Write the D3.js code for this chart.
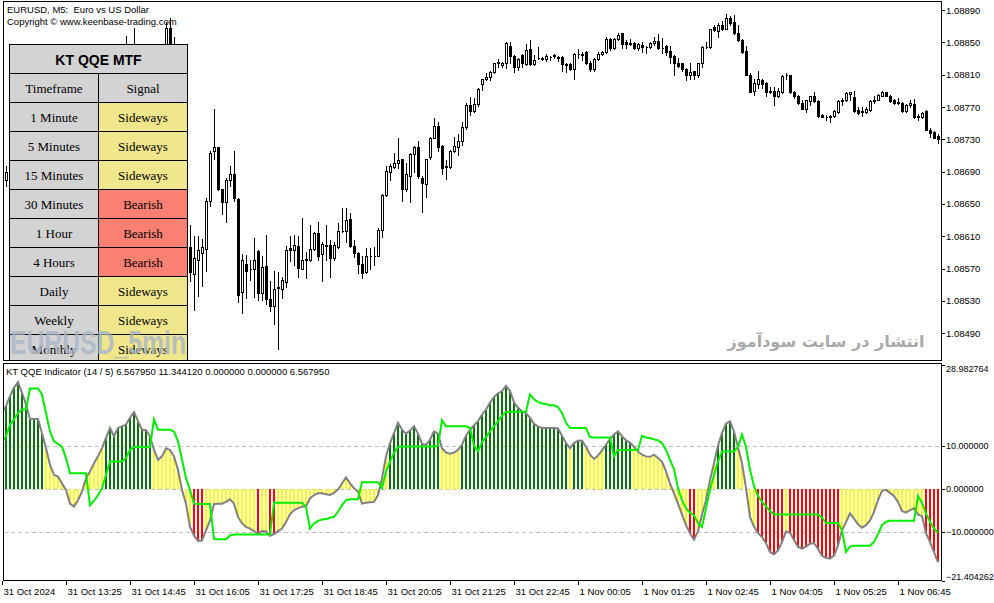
<!DOCTYPE html>
<html>
<head>
<meta charset="utf-8">
<script src="https://cdn.jsdelivr.net/npm/d3@7"></script>
<style>
  body { margin: 0; background: #fff; }
  svg { display: block; }
  text { font-family: "Liberation Sans", Arial, sans-serif; }
</style>
</head>
<body>
<div id="chart"></div>
<script>
let w = 994;
let h = 603;

// EURUSD M5 candles, [open, high, low, close] in points (price x 100000)
const candles = [
  [108673,108698,108667,108680],[108680,108697,108672,108690],[108690,108704,108682,108698],[108698,108711,108692,108704],
  [108704,108723,108698,108717],[108717,108722,108702,108711],[108711,108727,108707,108719],[108719,108734,108714,108729],
  [108729,108741,108723,108735],[108735,108746,108729,108741],[108741,108751,108734,108744],[108744,108748,108729,108735],
  [108735,108739,108717,108723],[108723,108729,108709,108717],[108717,108727,108712,108719],[108719,108722,108704,108711],
  [108711,108717,108697,108704],[108704,108708,108687,108695],[108695,108702,108682,108692],[108692,108707,108690,108702],
  [108702,108712,108697,108707],[108707,108722,108704,108717],[108717,108729,108712,108723],[108723,108737,108719,108732],
  [108732,108746,108727,108741],[108741,108756,108737,108751],[108751,108772,108748,108766],[108766,108785,108761,108781],
  [108781,108784,108766,108776],[108776,108796,108772,108791],[108791,108813,108786,108808],[108808,108858,108803,108821],
  [108821,108834,108816,108828],[108828,108868,108823,108838],[108838,108843,108821,108826],[108826,108834,108813,108818],
  [108818,108828,108811,108822],[108822,108838,108816,108831],[108831,108836,108810,108816],[108816,108826,108801,108808],
  [108808,108841,108803,108833],[108833,108875,108828,108868],[108868,108880,108843,108847],[108847,108857,108779,108785],
  [108785,108791,108692,108704],[108704,108711,108618,108630],[108630,108636,108587,108597],[108597,108624,108554,108566],
  [108563,108610,108519,108583],[108581,108610,108536,108593],[108589,108607,108548,108597],[108594,108657,108567,108653],
  [108653,108715,108647,108713],[108715,108767,108706,108720],[108720,108721,108667,108668],[108668,108669,108638,108652],
  [108652,108682,108628,108680],[108680,108697,108672,108687],[108687,108715,108653,108657],[108656,108657,108528,108537],
  [108541,108588,108515,108581],[108576,108587,108533,108567],[108570,108581,108556,108569],[108570,108608,108535,108581],
  [108592,108593,108531,108540],[108540,108585,108531,108572],[108573,108611,108526,108532],[108532,108555,108517,108524],
  [108524,108567,108501,108545],[108546,108566,108471,108547],[108545,108559,108534,108556],[108553,108598,108547,108593],
  [108596,108610,108579,108593],[108593,108611,108574,108599],[108598,108610,108560,108571],[108570,108632,108569,108581],
  [108582,108590,108558,108580],[108581,108624,108579,108594],[108594,108615,108593,108614],[108614,108628,108581,108585],
  [108588,108603,108555,108601],[108599,108624,108581,108598],[108599,108605,108560,108583],[108583,108603,108580,108599],
  [108597,108626,108596,108616],[108617,108645,108615,108616],[108616,108645,108603,108630],[108631,108639,108597,108598],
  [108598,108605,108584,108589],[108589,108591,108564,108576],[108576,108585,108558,108565],[108566,108595,108565,108586],
  [108586,108595,108570,108586],[108586,108597,108574,108586],[108586,108620,108585,108618],[108618,108662,108609,108661],
  [108661,108697,108660,108691],[108690,108699,108679,108697],[108696,108713,108694,108701],[108701,108731,108694,108704],
  [108705,108706,108653,108669],[108669,108701,108666,108687],[108685,108713,108652,108712],[108712,108722,108689,108721],
  [108720,108728,108682,108685],[108682,108684,108640,108676],[108675,108706,108658,108705],[108708,108733,108706,108732],
  [108732,108756,108731,108747],[108747,108751,108716,108721],[108722,108723,108687,108694],[108697,108704,108681,108696],
  [108696,108717,108694,108715],[108715,108733,108714,108722],[108721,108737,108710,108728],[108728,108752,108723,108745],
  [108745,108775,108743,108773],[108772,108782,108760,108765],[108765,108781,108764,108774],[108774,108794,108771,108792],
  [108798,108805,108791,108804],[108804,108812,108803,108807],[108807,108815,108803,108813],[108813,108825,108812,108824],
  [108824,108829,108820,108826],[108822,108826,108819,108825],[108824,108850,108818,108849],[108845,108850,108825,108833],
  [108833,108834,108813,108819],[108819,108830,108816,108829],[108834,108835,108819,108825],[108823,108848,108822,108841],
  [108842,108853,108822,108823],[108823,108834,108822,108828],[108830,108844,108829,108830],[108830,108832,108828,108829],
  [108829,108835,108827,108833],[108832,108833,108828,108832],[108833,108835,108830,108834],[108832,108833,108827,108831],
  [108832,108833,108815,108823],[108823,108824,108813,108822],[108823,108824,108816,108817],[108817,108837,108804,108836],
  [108836,108842,108831,108835],[108835,108838,108828,108834],[108838,108839,108823,108824],[108824,108827,108814,108817],
  [108817,108830,108814,108829],[108829,108838,108828,108836],[108836,108839,108834,108838],[108838,108856,108837,108854],
  [108854,108855,108840,108843],[108843,108855,108842,108854],[108854,108862,108853,108859],[108861,108862,108843,108848],
  [108850,108853,108843,108848],[108848,108854,108847,108849],[108849,108850,108842,108843],[108843,108849,108840,108848],
  [108847,108850,108838,108844],[108844,108845,108837,108844],[108844,108850,108843,108849],[108849,108857,108847,108852],
  [108852,108860,108842,108843],[108843,108855,108837,108843],[108845,108847,108834,108838],[108839,108845,108824,108832],
  [108833,108834,108809,108825],[108824,108830,108820,108821],[108824,108825,108815,108817],[108817,108818,108803,108809],
  [108809,108825,108805,108813],[108814,108815,108805,108809],[108809,108825,108807,108824],[108824,108845,108819,108844],
  [108844,108850,108843,108844],[108844,108867,108843,108866],[108869,108871,108864,108865],[108864,108874,108857,108872],
  [108872,108876,108865,108866],[108867,108885,108866,108880],[108880,108882,108872,108874],[108875,108884,108860,108861],
  [108861,108872,108852,108853],[108853,108854,108837,108838],[108839,108845,108809,108810],[108810,108812,108788,108789],
  [108790,108804,108785,108800],[108799,108815,108794,108804],[108803,108804,108793,108799],[108800,108801,108783,108789],
  [108790,108795,108787,108788],[108790,108795,108773,108784],[108783,108793,108782,108790],[108789,108810,108787,108808],
  [108810,108812,108804,108810],[108809,108810,108787,108788],[108789,108790,108781,108783],[108784,108785,108774,108775],
  [108775,108779,108767,108768],[108768,108779,108764,108778],[108777,108784,108772,108783],[108784,108789,108776,108777],
  [108777,108779,108757,108759],[108760,108761,108757,108758],[108758,108760,108754,108757],[108757,108760,108752,108759],
  [108759,108766,108758,108765],[108764,108779,108763,108777],[108777,108781,108772,108779],[108778,108789,108777,108787],
  [108786,108789,108779,108788],[108782,108790,108764,108765],[108766,108770,108761,108763],[108764,108770,108759,108765],
  [108764,108770,108763,108768],[108766,108778,108765,108777],[108777,108783,108775,108779],[108779,108786,108778,108785],
  [108784,108790,108783,108788],[108788,108789,108783,108784],[108784,108785,108776,108777],[108779,108780,108774,108775],
  [108776,108781,108774,108775],[108775,108776,108764,108765],[108765,108774,108764,108773],[108772,108779,108770,108775],
  [108774,108780,108756,108757],[108759,108761,108754,108757],[108757,108764,108756,108763],[108765,108766,108741,108742],
  [108742,108744,108733,108738],[108739,108740,108731,108732],[108734,108736,108726,108730]
];

// KT QQE histogram value (RSI - 50) per bar
const qqeValue = [
  17.7,19.3,21.6,23.6,24.9,22.4,19.7,16.3,16.3,16.3,
  13.0,9.5,5.6,3.3,2.9,1.3,-0.2,-3.4,-4.1,-2.6,
  -0.6,2.5,4.1,6.0,7.6,9.5,11.9,14.2,12.3,14.2,
  14.6,15.0,16.6,17.9,15.8,13.8,13.7,12.3,9.1,6.8,
  7.6,9.5,9.1,7.6,4.5,-0.2,-3.4,-8.8,-10.8,-12.1,
  -12.0,-9.6,-7.3,-3.5,-3.4,-3.4,-3.0,-2.4,-3.4,-6.5,
  -8.0,-8.8,-9.2,-9.8,-10.4,-9.8,-9.9,-10.9,-10.5,-9.8,
  -9.2,-7.7,-5.9,-4.9,-4.5,-4.1,-4.0,-2.2,-1.4,-1.0,
  -1.0,-1.2,-1.4,-0.9,-0.1,1.3,2.7,1.3,0.2,-0.6,
  -3.4,-3.2,-3.1,-3.0,-1.4,2.5,7.6,10.7,13.0,15.4,
  13.8,12.9,13.6,14.6,12.9,10.5,10.3,11.5,13.4,12.9,
  9.5,8.5,8.2,8.5,9.1,10.3,12.4,13.8,14.8,15.8,
  17.3,18.5,20.1,21.4,22.3,22.8,24.0,22.8,20.2,18.9,
  18.1,17.6,16.6,15.2,14.6,14.2,14.2,14.2,14.2,14.1,
  12.4,10.7,9.5,10.7,11.25,11.3,9.8,8.0,7.0,7.8,
  9.0,10.3,11.6,12.7,13.4,12.3,11.3,10.8,9.8,8.75,
  8.0,7.6,7.5,8.0,7.2,6.4,4.1,1.3,-1.0,-3.4,
  -5.9,-8.4,-10.3,-11.8,-9.8,-5.9,-2.6,2.1,6.0,10.1,
  13.0,15.2,15.8,13.4,9.7,6.0,0.2,-6.5,-8.8,-10.2,
  -11.2,-12.6,-14.7,-15.2,-14.3,-12.3,-9.9,-10.2,-11.8,-13.5,
  -13.9,-13.4,-12.7,-12.6,-13.9,-15.5,-16.0,-16.2,-15.5,-13.1,
  -9.6,-7.7,-5.7,-6.9,-8.2,-9.0,-8.4,-7.3,-5.3,-2.6,
  -0.4,-0.2,-0.9,-1.6,-3.0,-5.1,-5.5,-4.9,-4.5,-5.9,
  -6.3,-10.3,-12.3,-14.7,-17.0
];

// KT QQE trailing level per bar
const qqeTrail = [
  11.1,12.3,15.0,16.2,17.7,18.5,18.5,23.4,23.4,23.4,
  22.0,17.7,13.4,11.1,10.5,9.8,7.2,3.7,3.7,3.7,
  3.7,3.7,-3.75,-2.7,-1.4,0.2,3.3,6.4,6.4,6.4,
  6.4,7.2,9.1,9.8,9.8,9.8,9.8,9.8,16.2,13.8,
  13.8,13.8,13.8,13.4,11.1,6.8,2.5,-0.2,-3.4,-3.5,
  -3.5,-3.5,-3.5,-11.6,-11.7,-11.7,-11.7,-10.8,-10.6,-10.6,
  -10.6,-10.6,-10.6,-10.6,-10.6,-10.6,-10.6,-10.6,-3.2,-3.2,
  -3.2,-3.2,-3.2,-3.2,-3.2,-3.2,-4.1,-9.2,-8.0,-7.4,
  -7.1,-7.0,-6.7,-6.5,-5.3,-3.75,-2.6,-2.4,-2.4,-2.4,
  1.6,1.6,1.6,1.6,1.6,0.2,4.1,6.4,8.4,9.8,
  9.9,9.9,9.9,9.9,9.9,9.9,9.9,9.9,9.9,10.1,
  16.0,14.6,14.6,14.6,14.6,14.6,14.6,14.2,10.1,8.75,
  10.9,12.1,13.4,14.6,15.8,17.1,17.9,18.0,18.0,18.0,
  18.0,18.0,22.0,20.9,20.3,19.9,19.8,19.5,19.5,19.1,
  17.7,15.4,14.2,14.2,14.2,14.2,14.2,12.1,12.0,12.0,
  12.0,12.0,12.0,7.6,9.1,9.1,9.1,9.1,9.1,9.1,
  12.4,12.0,11.8,11.6,11.3,10.7,9.1,6.8,4.6,0.2,
  -2.6,-4.5,-5.5,-6.1,-8.0,-8.8,-4.5,-0.2,3.3,6.4,
  8.75,8.75,8.75,8.75,9.8,12.7,9.8,4.5,0.7,-1.6,
  -3.0,-4.0,-5.1,-5.9,-5.9,-5.9,-5.9,-5.9,-5.9,-5.9,
  -5.9,-5.9,-5.9,-5.9,-5.9,-6.6,-7.9,-7.9,-7.9,-7.9,
  -9.6,-14.6,-13.4,-13.2,-13.2,-13.2,-13.2,-13.2,-12.3,-10.5,
  -8.4,-7.6,-7.4,-7.4,-7.4,-7.4,-7.4,-7.4,-7.4,-1.6,
  -3.2,-5.7,-7.6,-9.2,-10.1
];

const priceTicks = [1.08890, 1.08850, 1.08810, 1.08770, 1.08730, 1.08690, 1.08650, 1.08610, 1.08570, 1.08530, 1.08490];
const qqeTicks = [28.982764, 10, 0, -10, -21.404262];
const qqeLevels = [10, 0, -10];
const timeLabels = ["31 Oct 2024", "31 Oct 13:25", "31 Oct 14:45", "31 Oct 16:05", "31 Oct 17:25", "31 Oct 18:45",
  "31 Oct 20:05", "31 Oct 21:25", "31 Oct 22:45", "1 Nov 00:05", "1 Nov 01:25", "1 Nov 02:45",
  "1 Nov 04:05", "1 Nov 05:25", "1 Nov 06:45"];
const barsPerLabel = 16;

const timeframes = ["1 Minute", "5 Minutes", "15 Minutes", "30 Minutes", "1 Hour", "4 Hours", "Daily", "Weekly", "Monthly"];
const signals = ["Sideways", "Sideways", "Sideways", "Bearish", "Bearish", "Bearish", "Sideways", "Sideways", "Sideways"];
const signalColor = { Sideways: "#f0e68c", Bearish: "#fa8072", Bullish: "#90ee90" };

const bars = candles.map((d, i) => ({ i: i, o: d[0] / 1e5, h: d[1] / 1e5, l: d[2] / 1e5, c: d[3] / 1e5 }));

let viz = d3.select("#chart")
  .append("svg")
  .style("background-color", "#fff")
  .attr("width", w)
  .attr("height", h);

// scales
let xScale = d3.scaleLinear().domain([0, candles.length - 1]).range([2, 938]);
let yPrice = d3.scaleLinear().domain([1.08890, 1.08490]).range([10, 333.2]);
let yQqe = d3.scaleLinear().domain([qqeTicks[0], qqeTicks[qqeTicks.length - 1]]).range([364.5, 581]);

let defs = viz.append("defs");
defs.append("clipPath").attr("id", "mainClip").append("rect")
  .attr("x", 4).attr("y", 2).attr("width", 937).attr("height", 358);
defs.append("clipPath").attr("id", "subClip").append("rect")
  .attr("x", 4).attr("y", 364).attr("width", 937).attr("height", 216);

// ---- candles
let candleGroup = viz.append("g").attr("clip-path", "url(#mainClip)").attr("shape-rendering", "crispEdges");

candleGroup.selectAll(".wick").data(bars).enter()
  .append("line")
  .attr("class", "wick")
  .attr("x1", d => xScale(d.i) + 0.5)
  .attr("x2", d => xScale(d.i) + 0.5)
  .attr("y1", d => Math.round(yPrice(d.h)))
  .attr("y2", d => Math.round(yPrice(d.l)) + 1)
  .attr("stroke", "#000");

candleGroup.selectAll(".body").data(bars).enter()
  .append("path")
  .attr("class", "body")
  .attr("d", d => {
    let top = Math.round(yPrice(Math.max(d.o, d.c)));
    let bot = Math.round(yPrice(Math.min(d.o, d.c)));
    let cx = xScale(d.i);
    return "M" + (cx - 0.5) + "," + (top + 0.5) + "h2v" + (bot - top) + "h-2Z";
  })
  .attr("fill", d => d.c >= d.o ? "#fff" : "#000")
  .attr("stroke", "#000");

// ---- QQE indicator
let subGroup = viz.append("g").attr("clip-path", "url(#subClip)");

subGroup.selectAll(".level").data(qqeLevels).enter()
  .append("line")
  .attr("class", "level")
  .attr("x1", 4).attr("x2", 941)
  .attr("y1", d => Math.round(yQqe(d)) + 0.5)
  .attr("y2", d => Math.round(yQqe(d)) + 0.5)
  .attr("stroke", "#c0c0c0")
  .attr("stroke-dasharray", "4,3");

function barColor(v) {
  if (v > 10) return "#0b720b";
  if (v < -10) return "#ff0000";
  return "#ffff00";
}

subGroup.selectAll(".hist").data(qqeValue).enter()
  .append("rect")
  .attr("class", "hist")
  .attr("shape-rendering", "crispEdges")
  .attr("x", (d, i) => xScale(i) - 1)
  .attr("width", 2)
  .attr("y", d => Math.round(Math.min(yQqe(0), yQqe(d))))
  .attr("height", d => Math.round(Math.abs(yQqe(d) - yQqe(0))))
  .attr("fill", d => barColor(d));

let qqeLine = d3.line().x((d, i) => xScale(i)).y(d => yQqe(d));

subGroup.append("path")
  .attr("d", qqeLine(qqeValue))
  .attr("fill", "none")
  .attr("stroke", "#808080")
  .attr("stroke-width", 2);

subGroup.append("path")
  .attr("d", qqeLine(qqeTrail))
  .attr("fill", "none")
  .attr("stroke", "#00ee00")
  .attr("stroke-width", 2);

// ---- panel frames
let frame = viz.append("g").attr("fill", "none").attr("stroke", "#000").attr("shape-rendering", "crispEdges");
frame.append("rect").attr("x", 3.5).attr("y", 1.5).attr("width", 938).attr("height", 359);
frame.append("rect").attr("x", 3.5).attr("y", 363.5).attr("width", 938).attr("height", 217);

// ---- axes
function styleAxis(g, size) {
  g.select(".domain").remove();
  g.selectAll("text").style("font-family", "'Liberation Sans', Arial, sans-serif").style("font-size", size).attr("fill", "#000");
  g.selectAll("line").attr("stroke", "#000");
}

let priceAxis = d3.axisRight(yPrice).tickValues(priceTicks).tickSize(3).tickPadding(1).tickFormat(d3.format(".5f"));
viz.append("g").attr("transform", "translate(942,0)").attr("shape-rendering", "crispEdges")
  .call(priceAxis).call(styleAxis, "9.5px");

let qqeAxis = d3.axisRight(yQqe).tickValues(qqeTicks).tickSize(3).tickPadding(1).tickFormat(d3.format(".6f"));
let qqeAxisGroup = viz.append("g").attr("transform", "translate(942,0)").attr("shape-rendering", "crispEdges")
  .call(qqeAxis).call(styleAxis, "9px");
qqeAxisGroup.selectAll(".tick text")
  .attr("transform", (d, i) => i === 0 ? "translate(0,4)" : (i === qqeTicks.length - 1 ? "translate(0,-4)" : null));

let timeAxis = d3.axisBottom(xScale)
  .tickValues(timeLabels.map((d, i) => i * barsPerLabel))
  .tickSize(4).tickPadding(3)
  .tickFormat((d, i) => timeLabels[i]);
let timeAxisGroup = viz.append("g").attr("transform", "translate(0,581)").attr("shape-rendering", "crispEdges")
  .call(timeAxis).call(styleAxis, "9.5px");
timeAxisGroup.selectAll(".tick text").attr("text-anchor", "start").attr("x", 1);

// ---- titles
viz.append("text").attr("x", 7).attr("y", 13).style("font-size", "9.5px").style("white-space", "pre")
  .text("EURUSD, M5:  Euro vs US Dollar");
viz.append("text").attr("x", 7).attr("y", 24.5).style("font-size", "9.5px")
  .text("Copyright \u00a9 www.keenbase-trading.com");
viz.append("text").attr("x", 6).attr("y", 375).style("font-size", "9.5px")
  .text("KT QQE Indicator (14 / 5) 6.567950 11.344120 0.000000 0.000000 6.567950");

// ---- KT QQE MTF table
let tbl = viz.append("g").attr("clip-path", "url(#mainClip)").attr("shape-rendering", "crispEdges");
let tx0 = 9.5, tx1 = 98.5, tx2 = 187.5, ty0 = 44.5, rowH = 29;
let serif = "'Liberation Serif', 'Times New Roman', serif";

tbl.append("rect").attr("x", tx0).attr("y", ty0).attr("width", tx2 - tx0).attr("height", rowH)
  .attr("fill", "#d3d3d3").attr("stroke", "#000");
tbl.append("text").attr("x", (tx0 + tx2) / 2).attr("y", ty0 + 20).attr("text-anchor", "middle")
  .style("font-size", "14px").style("font-weight", "bold").text("KT QQE MTF");

let rows = [{ left: "Timeframe", right: "Signal", fill: "#d3d3d3" }]
  .concat(timeframes.map((t, i) => ({ left: t, right: signals[i], fill: signalColor[signals[i]] })));

let rowG = tbl.selectAll(".row").data(rows).enter()
  .append("g")
  .attr("class", "row")
  .attr("transform", (d, i) => "translate(0," + (ty0 + rowH * (i + 1)) + ")");

rowG.append("rect").attr("x", tx0).attr("width", tx1 - tx0).attr("height", rowH)
  .attr("fill", "#d3d3d3").attr("stroke", "#000");
rowG.append("rect").attr("x", tx1).attr("width", tx2 - tx1).attr("height", rowH)
  .attr("fill", d => d.fill).attr("stroke", "#000");
rowG.append("text").attr("x", (tx0 + tx1) / 2).attr("y", 19).attr("text-anchor", "middle")
  .style("font-family", serif).style("font-size", "13px")
  .text(d => d.left);
rowG.append("text").attr("x", (tx1 + tx2) / 2).attr("y", 19).attr("text-anchor", "middle")
  .style("font-family", serif).style("font-size", "13px")
  .text(d => d.right);

// ---- watermarks
viz.append("text").attr("x", 10).attr("y", 354)
  .style("font-family", "'Liberation Sans Narrow', 'Arial Narrow', sans-serif")
  .style("font-weight", "bold").style("font-size", "33px")
  .attr("textLength", 176).attr("lengthAdjust", "spacingAndGlyphs")
  .attr("fill", "#a9b6c8").attr("opacity", 0.8)
  .text("EURUSD_5min");

viz.append("text").attr("x", 826).attr("y", 347).attr("text-anchor", "middle")
  .style("font-family", "'DejaVu Sans', sans-serif").style("font-weight", "bold").style("font-size", "16px")
  .attr("fill", "#a9a9a9")
  .text("انتشار در سایت سودآموز");
</script>
</body>
</html>
